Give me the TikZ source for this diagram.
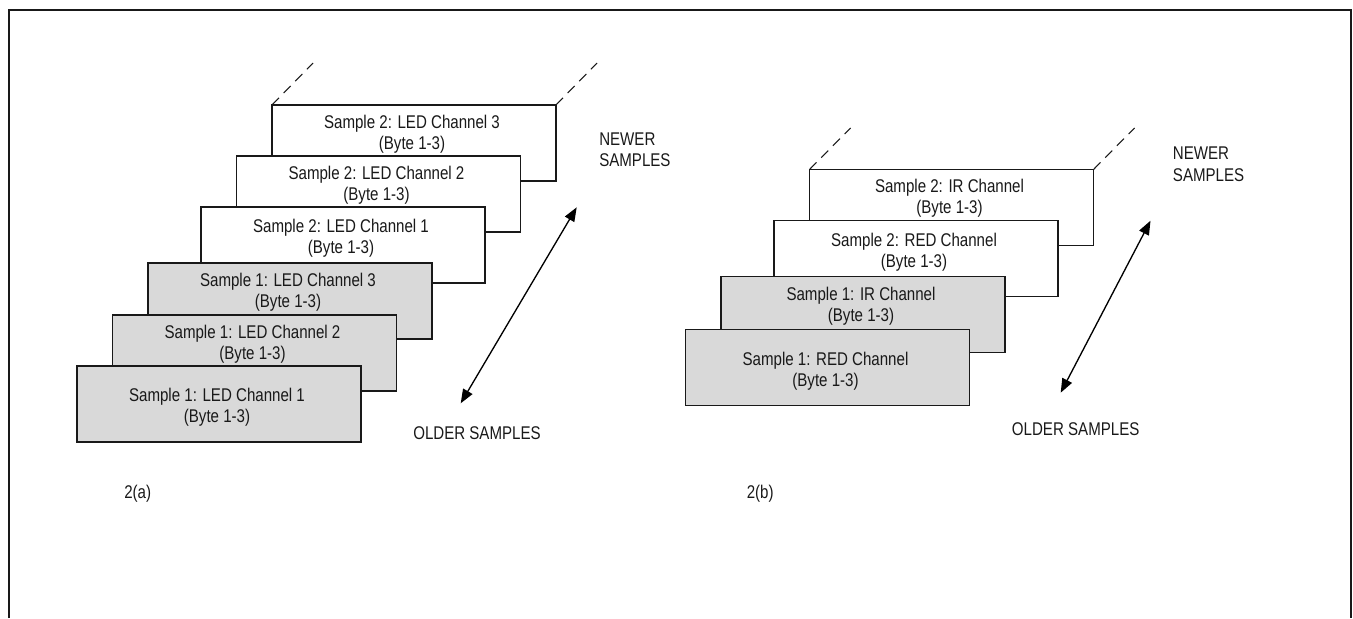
\documentclass[tikz,border=0pt]{standalone}
\usepackage{fontspec}
\setmainfont{Liberation Sans}[FakeStretch=0.82]
\usetikzlibrary{arrows.meta}
\definecolor{boxgray}{RGB}{217,217,217}
\definecolor{ink}{RGB}{25,25,25}
\begin{document}
\begin{tikzpicture}[
  x=0.75pt, y=-0.75pt,
  samplebox/.style={draw=ink, line width=1.2pt, minimum width=213pt, minimum height=57pt,
    inner sep=0pt, outer sep=0pt, anchor=north west},
  oldbox/.style={samplebox, fill=boxgray},
  newbox/.style={samplebox, fill=white},
  txt/.style={font=\fontsize{13.8}{16}\selectfont, text=ink, inner sep=0pt},
  boxtext/.style={txt, align=center},
  lbl/.style={txt, align=left, anchor=base west},
  trail/.style={draw=ink, line width=0.8pt, dash pattern=on 7.5pt off 5pt},
  timearrow/.style={draw=black, line width=1pt,
    {Triangle[length=10.5pt,width=8pt]}-{Triangle[length=10.5pt,width=8pt]}},
  frame/.style={draw=ink, line width=1.5pt}
]
\useasboundingbox (0,0) rectangle (1353,618);
\draw[frame] (8.5,618) -- (8.5,9.5) -- (1350.5,9.5) -- (1350.5,618);

% ---------------- panel 2(a) ----------------
\node[newbox] (a6) at (272,105) {};
\node[boxtext] (a6t) at ([shift={(-2,29)}]a6.north) {Sample 2: LED Channel 3\\(Byte 1-3)};
\node[newbox] (a5) at (236.5,156) {};
\node[boxtext] (a5t) at ([shift={(-2,29)}]a5.north) {Sample 2: LED Channel 2\\(Byte 1-3)};
\node[newbox] (a4) at (201,207) {};
\node[boxtext] (a4t) at ([shift={(-2,31.5)}]a4.north) {Sample 2: LED Channel 1\\(Byte 1-3)};
\node[oldbox] (a3) at (148,263) {};
\node[boxtext] (a3t) at ([shift={(-2,29.5)}]a3.north) {Sample 1: LED Channel 3\\(Byte 1-3)};
\node[oldbox] (a2) at (112.5,315) {};
\node[boxtext] (a2t) at ([shift={(-2,29)}]a2.north) {Sample 1: LED Channel 2\\(Byte 1-3)};
\node[oldbox] (a1) at (77,366) {};
\node[boxtext] (a1t) at ([shift={(-2,41.5)}]a1.north) {Sample 1: LED Channel 1\\(Byte 1-3)};

\coordinate (a6l) at ([shift={(41,-42)}]a6.north west);
\coordinate (a6r) at ([shift={(41,-42)}]a6.north east);
\draw[trail] (a6.north west) -- (a6l);
\draw[trail] (a6.north east) -- (a6r);

\coordinate (aold) at (460.7,403.3);
\coordinate (anew) at (576.7,207.3);
\draw[timearrow] (aold) -- (anew);

\node[lbl] (anewer) at (599,166.7) {NEWER\\SAMPLES};
\node[lbl] (aolder) at (413,439.3) {OLDER SAMPLES};
\node[lbl] (acap) at (124,498) {2(a)};

% ---------------- panel 2(b) ----------------
\node[newbox] (b4) at (809.5,169.5) {};
\node[boxtext] (b4t) at ([shift={(-2,29)}]b4.north) {Sample 2: IR Channel\\(Byte 1-3)};
\node[newbox] (b3) at (774,220.5) {};
\node[boxtext] (b3t) at ([shift={(-2,31.5)}]b3.north) {Sample 2: RED Channel\\(Byte 1-3)};
\node[oldbox] (b2) at (721,276.5) {};
\node[boxtext] (b2t) at ([shift={(-2,30)}]b2.north) {Sample 1: IR Channel\\(Byte 1-3)};
\node[oldbox] (b1) at (685.5,329.5) {};
\node[boxtext] (b1t) at ([shift={(-2,41.5)}]b1.north) {Sample 1: RED Channel\\(Byte 1-3)};

\coordinate (b4l) at ([shift={(41,-41.5)}]b4.north west);
\coordinate (b4r) at ([shift={(41,-41.5)}]b4.north east);
\draw[trail] (b4.north west) -- (b4l);
\draw[trail] (b4.north east) -- (b4r);

\coordinate (bold) at (1060.7,392.7);
\coordinate (bnew) at (1150.5,220.7);
\draw[timearrow] (bold) -- (bnew);

\node[lbl] (bnewer) at (1172.7,181) {NEWER\\SAMPLES};
\node[lbl] (bolder) at (1011.7,435.7) {OLDER SAMPLES};
\node[lbl] (bcap) at (746.5,498) {2(b)};
\end{tikzpicture}
\end{document}
